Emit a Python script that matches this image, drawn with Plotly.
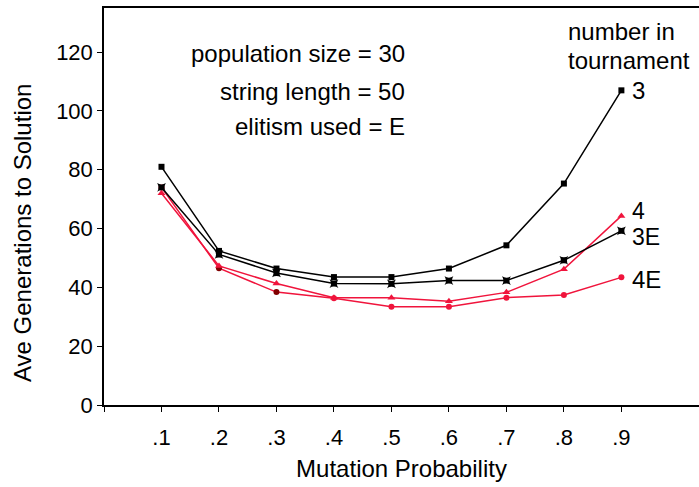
import plotly.graph_objects as go

mutation = [0.1, 0.2, 0.3, 0.4, 0.5, 0.6, 0.7, 0.8, 0.9]
tick_labels = [".1", ".2", ".3", ".4", ".5", ".6", ".7", ".8", ".9"]
t3 = [81, 52.4, 46.4, 43.5, 43.5, 46.4, 54.3, 75.3, 107]
t3E = [74, 51.2, 44.9, 41.3, 41.2, 42.3, 42.3, 49.2, 59.2]
t4 = [72, 47.3, 41.3, 36.5, 36.5, 35.3, 38.3, 46.2, 64.3]
t4E = [74, 46.5, 38.4, 36.3, 33.4, 33.4, 36.5, 37.4, 43.4]

RED = "#f0143c"
DARKRED = "#800000"
FONT = "Liberation Sans, Arial, sans-serif"
FS = 24

W, H = 699, 487
L, R, T, B = 104, 0, 8, 82
PW, PH = W - L - R, H - T - B


def px(xp):
    return (xp - L) / PW


def py(yp):
    return (H - B - yp) / PH


fig = go.Figure()
fig.add_trace(go.Scatter(x=mutation, y=t4E, mode="lines+markers",
                         line=dict(color=RED, width=1.5),
                         marker=dict(symbol="circle", size=6,
                                     color=[RED, DARKRED, DARKRED] + [RED] * 6)))
fig.add_trace(go.Scatter(x=mutation, y=t4, mode="lines+markers",
                         line=dict(color=RED, width=1.5),
                         marker=dict(symbol="triangle-up", size=7, color=RED)))
fig.add_trace(go.Scatter(x=mutation, y=t3E, mode="lines+markers",
                         line=dict(color="black", width=1.5),
                         marker=dict(symbol="star-square", size=8, color="black")))
fig.add_trace(go.Scatter(x=mutation, y=t3, mode="lines+markers",
                         line=dict(color="black", width=1.5),
                         marker=dict(symbol="square", size=6, color="black")))

ann = []
labels = [("3", t3[-1], 0, FS), ("4", t4[-1], 1.8, 23), ("3E", t3E[-1], -2.2, 23), ("4E", t4E[-1], -0.6, FS)]
for txt, yv, off, fs in labels:
    ann.append(dict(x=0.915, y=yv + off, xref="x", yref="y", text=txt, showarrow=False,
                    xanchor="left", yanchor="middle", font=dict(size=fs, color="black", family=FONT)))

for txt, ypx in [("population size = 30", 53), ("string length = 50", 91), ("elitism used = E", 127)]:
    ann.append(dict(x=px(407), y=py(ypx), xref="paper", yref="paper", text=txt, showarrow=False,
                    xanchor="right", yanchor="middle", font=dict(size=FS, color="black", family=FONT)))

ann.append(dict(x=px(566), y=py(31), xref="paper", yref="paper", text="number in", showarrow=False,
                xanchor="left", yanchor="middle", font=dict(size=FS, color="black", family=FONT)))
ann.append(dict(x=px(566), y=py(61), xref="paper", yref="paper", text="tournament", showarrow=False,
                xanchor="left", yanchor="middle", font=dict(size=FS, color="black", family=FONT)))
ann.append(dict(x=px(22), y=py(233), xref="paper", yref="paper", text="Ave Generations to Solution",
                showarrow=False, textangle=-90, xanchor="center", yanchor="middle",
                font=dict(size=FS, color="black", family=FONT)))

fig.update_layout(
    width=W, height=H,
    margin=dict(l=L, r=R, t=T, b=B),
    paper_bgcolor="white", plot_bgcolor="white",
    showlegend=False,
    annotations=ann,
    font=dict(family=FONT, color="black"),
)
fig.update_xaxes(range=[0, 1.035], tickvals=[0] + mutation, ticktext=[""] + tick_labels,
                 ticks="outside", ticklen=5, tickcolor="black", tickwidth=1,
                 showline=True, linecolor="black", linewidth=1.5, mirror=True,
                 showgrid=False, zeroline=False, tickfont=dict(size=22, family=FONT),
                 ticklabelstandoff=7,
                 title=dict(text="Mutation Probability", font=dict(size=FS, family=FONT), standoff=11))
fig.update_yaxes(range=[0, 135], tickvals=[0, 20, 40, 60, 80, 100, 120],
                 ticks="outside", ticklen=5, tickcolor="black", tickwidth=1,
                 showline=True, linecolor="black", linewidth=1.5,
                 showgrid=False, zeroline=False, tickfont=dict(size=22, family=FONT))

fig.write_html("out.html")
